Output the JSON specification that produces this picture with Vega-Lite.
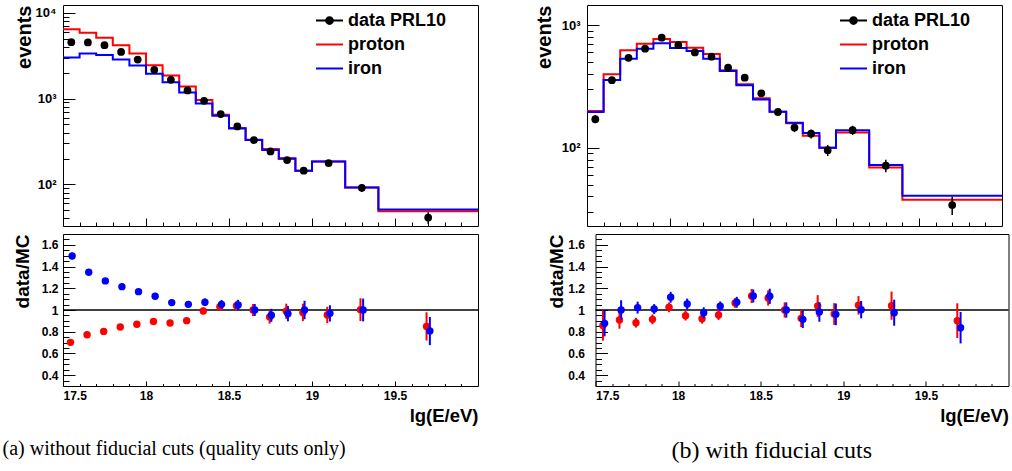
{
"$schema": "https://vega.github.io/schema/vega-lite/v6.json",
"background": "white",
"padding": {"left": 2, "top": 4, "right": 2, "bottom": 4},
"config": {
  "view": {"stroke": "black", "strokeWidth": 1},
  "axis": {"domain": false, "grid": false, "labelFont": "Liberation Sans", "labelFontWeight": "bold", "labelFontSize": 12, "labelColor": "black", "tickColor": "black", "tickWidth": 1, "titleFont": "Liberation Sans", "titleFontWeight": "bold", "titleColor": "black"},
  "title": {"font": "Liberation Serif", "fontWeight": "normal", "color": "black"}
},
"datasets": {
  "histA": [
    {"s":"proton","e":17.5,"n":6410},{"s":"proton","e":17.6,"n":5850},{"s":"proton","e":17.7,"n":5120},{"s":"proton","e":17.8,"n":4180},{"s":"proton","e":17.9,"n":3340},{"s":"proton","e":18.0,"n":2445},{"s":"proton","e":18.1,"n":1850},{"s":"proton","e":18.2,"n":1380},{"s":"proton","e":18.3,"n":958},{"s":"proton","e":18.4,"n":646},{"s":"proton","e":18.5,"n":453},{"s":"proton","e":18.6,"n":331},{"s":"proton","e":18.7,"n":258},{"s":"proton","e":18.8,"n":197},{"s":"proton","e":18.9,"n":144},{"s":"proton","e":19.0,"n":185},{"s":"proton","e":19.2,"n":91.6},{"s":"proton","e":19.4,"n":48.5},{"s":"proton","e":20.0,"n":48.5},
    {"s":"iron","e":17.5,"n":3000},{"s":"iron","e":17.6,"n":3340},{"s":"iron","e":17.7,"n":3220},{"s":"iron","e":17.8,"n":2840},{"s":"iron","e":17.9,"n":2420},{"s":"iron","e":18.0,"n":1940},{"s":"iron","e":18.1,"n":1550},{"s":"iron","e":18.2,"n":1175},{"s":"iron","e":18.3,"n":875},{"s":"iron","e":18.4,"n":630},{"s":"iron","e":18.5,"n":448},{"s":"iron","e":18.6,"n":328},{"s":"iron","e":18.7,"n":251},{"s":"iron","e":18.8,"n":201},{"s":"iron","e":18.9,"n":144},{"s":"iron","e":19.0,"n":185},{"s":"iron","e":19.2,"n":91.6},{"s":"iron","e":19.4,"n":50.8},{"s":"iron","e":20.0,"n":50.8}
  ],
  "dataA": [
    {"s":"data PRL10","x":17.55,"n":4530,"lo":4463,"hi":4597},
    {"s":"data PRL10","x":17.65,"n":4500,"lo":4433,"hi":4567},
    {"s":"data PRL10","x":17.75,"n":4180,"lo":4115,"hi":4245},
    {"s":"data PRL10","x":17.85,"n":3490,"lo":3431,"hi":3549},
    {"s":"data PRL10","x":17.95,"n":2840,"lo":2787,"hi":2893},
    {"s":"data PRL10","x":18.05,"n":2160,"lo":2114,"hi":2206},
    {"s":"data PRL10","x":18.15,"n":1650,"lo":1609,"hi":1691},
    {"s":"data PRL10","x":18.25,"n":1240,"lo":1205,"hi":1275},
    {"s":"data PRL10","x":18.35,"n":940,"lo":909,"hi":971},
    {"s":"data PRL10","x":18.45,"n":659,"lo":633,"hi":685},
    {"s":"data PRL10","x":18.55,"n":472,"lo":450,"hi":494},
    {"s":"data PRL10","x":18.65,"n":328,"lo":310,"hi":346},
    {"s":"data PRL10","x":18.75,"n":242,"lo":226,"hi":258},
    {"s":"data PRL10","x":18.85,"n":192,"lo":178,"hi":206},
    {"s":"data PRL10","x":18.95,"n":144,"lo":132,"hi":156},
    {"s":"data PRL10","x":19.1,"n":177,"lo":164,"hi":190},
    {"s":"data PRL10","x":19.3,"n":91,"lo":81.5,"hi":100.5},
    {"s":"data PRL10","x":19.7,"n":41,"lo":34.6,"hi":47.4}
  ],
  "histB": [
    {"s":"proton","e":17.5,"n":199.5},{"s":"proton","e":17.6,"n":398},{"s":"proton","e":17.7,"n":625},{"s":"proton","e":17.8,"n":708},{"s":"proton","e":17.9,"n":773},{"s":"proton","e":18.0,"n":731},{"s":"proton","e":18.1,"n":656},{"s":"proton","e":18.2,"n":583},{"s":"proton","e":18.3,"n":429},{"s":"proton","e":18.4,"n":330},{"s":"proton","e":18.5,"n":253},{"s":"proton","e":18.6,"n":197},{"s":"proton","e":18.7,"n":158},{"s":"proton","e":18.8,"n":125},{"s":"proton","e":18.9,"n":100},{"s":"proton","e":19.0,"n":133},{"s":"proton","e":19.2,"n":68.7},{"s":"proton","e":19.4,"n":37.6},{"s":"proton","e":20.0,"n":37.6},
    {"s":"iron","e":17.5,"n":196},{"s":"iron","e":17.6,"n":357},{"s":"iron","e":17.7,"n":534},{"s":"iron","e":17.8,"n":644},{"s":"iron","e":17.9,"n":713},{"s":"iron","e":18.0,"n":653},{"s":"iron","e":18.1,"n":617},{"s":"iron","e":18.2,"n":534},{"s":"iron","e":18.3,"n":424},{"s":"iron","e":18.4,"n":324},{"s":"iron","e":18.5,"n":248},{"s":"iron","e":18.6,"n":197},{"s":"iron","e":18.7,"n":160},{"s":"iron","e":18.8,"n":132},{"s":"iron","e":18.9,"n":100},{"s":"iron","e":19.0,"n":139},{"s":"iron","e":19.2,"n":72.3},{"s":"iron","e":19.4,"n":40.5},{"s":"iron","e":20.0,"n":40.5}
  ],
  "dataB": [
    {"s":"data PRL10","x":17.55,"n":171,"lo":158,"hi":184},
    {"s":"data PRL10","x":17.65,"n":356,"lo":337,"hi":375},
    {"s":"data PRL10","x":17.75,"n":543,"lo":520,"hi":566},
    {"s":"data PRL10","x":17.85,"n":644,"lo":619,"hi":669},
    {"s":"data PRL10","x":17.95,"n":793,"lo":765,"hi":821},
    {"s":"data PRL10","x":18.05,"n":690,"lo":664,"hi":716},
    {"s":"data PRL10","x":18.15,"n":601,"lo":576,"hi":626},
    {"s":"data PRL10","x":18.25,"n":554,"lo":530,"hi":578},
    {"s":"data PRL10","x":18.35,"n":451,"lo":430,"hi":472},
    {"s":"data PRL10","x":18.45,"n":373,"lo":354,"hi":392},
    {"s":"data PRL10","x":18.55,"n":278,"lo":261,"hi":295},
    {"s":"data PRL10","x":18.65,"n":196,"lo":182,"hi":210},
    {"s":"data PRL10","x":18.75,"n":146,"lo":134,"hi":158},
    {"s":"data PRL10","x":18.85,"n":130,"lo":119,"hi":141},
    {"s":"data PRL10","x":18.95,"n":95.3,"lo":85.5,"hi":105.1},
    {"s":"data PRL10","x":19.1,"n":139,"lo":127,"hi":151},
    {"s":"data PRL10","x":19.3,"n":71.3,"lo":62.9,"hi":79.7},
    {"s":"data PRL10","x":19.7,"n":34,"lo":28.2,"hi":39.8}
  ],
  "ratioA": [
    {"s":"proton","x":17.545,"r":0.702,"lo":0.687,"hi":0.717},
    {"s":"proton","x":17.645,"r":0.772,"lo":0.757,"hi":0.787},
    {"s":"proton","x":17.745,"r":0.803,"lo":0.788,"hi":0.818},
    {"s":"proton","x":17.845,"r":0.843,"lo":0.827,"hi":0.859},
    {"s":"proton","x":17.945,"r":0.868,"lo":0.850,"hi":0.886},
    {"s":"proton","x":18.045,"r":0.895,"lo":0.875,"hi":0.915},
    {"s":"proton","x":18.145,"r":0.880,"lo":0.858,"hi":0.902},
    {"s":"proton","x":18.245,"r":0.902,"lo":0.877,"hi":0.927},
    {"s":"proton","x":18.345,"r":0.991,"lo":0.961,"hi":1.021},
    {"s":"proton","x":18.445,"r":1.031,"lo":0.991,"hi":1.071},
    {"s":"proton","x":18.545,"r":1.040,"lo":0.995,"hi":1.085},
    {"s":"proton","x":18.645,"r":1.000,"lo":0.945,"hi":1.055},
    {"s":"proton","x":18.745,"r":0.935,"lo":0.875,"hi":0.995},
    {"s":"proton","x":18.845,"r":0.988,"lo":0.918,"hi":1.058},
    {"s":"proton","x":18.945,"r":0.978,"lo":0.898,"hi":1.058},
    {"s":"proton","x":19.092,"r":0.954,"lo":0.879,"hi":1.029},
    {"s":"proton","x":19.292,"r":1.003,"lo":0.898,"hi":1.108},
    {"s":"proton","x":19.69,"r":0.849,"lo":0.719,"hi":0.979},
    {"s":"iron","x":17.555,"r":1.498,"lo":1.468,"hi":1.528},
    {"s":"iron","x":17.655,"r":1.348,"lo":1.323,"hi":1.373},
    {"s":"iron","x":17.755,"r":1.268,"lo":1.246,"hi":1.290},
    {"s":"iron","x":17.855,"r":1.215,"lo":1.193,"hi":1.237},
    {"s":"iron","x":17.955,"r":1.169,"lo":1.145,"hi":1.193},
    {"s":"iron","x":18.055,"r":1.126,"lo":1.100,"hi":1.152},
    {"s":"iron","x":18.155,"r":1.068,"lo":1.041,"hi":1.095},
    {"s":"iron","x":18.255,"r":1.052,"lo":1.022,"hi":1.082},
    {"s":"iron","x":18.355,"r":1.071,"lo":1.036,"hi":1.106},
    {"s":"iron","x":18.455,"r":1.052,"lo":1.012,"hi":1.092},
    {"s":"iron","x":18.555,"r":1.046,"lo":0.998,"hi":1.094},
    {"s":"iron","x":18.655,"r":1.000,"lo":0.945,"hi":1.055},
    {"s":"iron","x":18.755,"r":0.951,"lo":0.891,"hi":1.011},
    {"s":"iron","x":18.855,"r":0.966,"lo":0.896,"hi":1.036},
    {"s":"iron","x":18.955,"r":1.000,"lo":0.915,"hi":1.085},
    {"s":"iron","x":19.108,"r":0.969,"lo":0.894,"hi":1.044},
    {"s":"iron","x":19.308,"r":1.000,"lo":0.895,"hi":1.105},
    {"s":"iron","x":19.71,"r":0.806,"lo":0.676,"hi":0.936}
  ],
  "ratioB": [
    {"s":"proton","x":17.545,"r":0.858,"lo":0.718,"hi":0.998},
    {"s":"proton","x":17.645,"r":0.908,"lo":0.828,"hi":0.988},
    {"s":"proton","x":17.745,"r":0.883,"lo":0.838,"hi":0.928},
    {"s":"proton","x":17.845,"r":0.914,"lo":0.869,"hi":0.959},
    {"s":"proton","x":17.945,"r":1.025,"lo":0.980,"hi":1.070},
    {"s":"proton","x":18.045,"r":0.948,"lo":0.903,"hi":0.993},
    {"s":"proton","x":18.145,"r":0.920,"lo":0.875,"hi":0.965},
    {"s":"proton","x":18.245,"r":0.954,"lo":0.909,"hi":0.999},
    {"s":"proton","x":18.345,"r":1.065,"lo":1.020,"hi":1.110},
    {"s":"proton","x":18.445,"r":1.129,"lo":1.064,"hi":1.194},
    {"s":"proton","x":18.545,"r":1.111,"lo":1.041,"hi":1.181},
    {"s":"proton","x":18.645,"r":1.000,"lo":0.930,"hi":1.070},
    {"s":"proton","x":18.745,"r":0.923,"lo":0.843,"hi":1.003},
    {"s":"proton","x":18.845,"r":1.037,"lo":0.937,"hi":1.137},
    {"s":"proton","x":18.945,"r":0.963,"lo":0.863,"hi":1.063},
    {"s":"proton","x":19.092,"r":1.043,"lo":0.958,"hi":1.128},
    {"s":"proton","x":19.292,"r":1.040,"lo":0.910,"hi":1.170},
    {"s":"proton","x":19.69,"r":0.902,"lo":0.742,"hi":1.062},
    {"s":"iron","x":17.555,"r":0.877,"lo":0.757,"hi":0.997},
    {"s":"iron","x":17.655,"r":1.000,"lo":0.910,"hi":1.090},
    {"s":"iron","x":17.755,"r":1.022,"lo":0.967,"hi":1.077},
    {"s":"iron","x":17.855,"r":1.009,"lo":0.964,"hi":1.054},
    {"s":"iron","x":17.955,"r":1.117,"lo":1.067,"hi":1.167},
    {"s":"iron","x":18.055,"r":1.055,"lo":1.005,"hi":1.105},
    {"s":"iron","x":18.155,"r":0.975,"lo":0.925,"hi":1.025},
    {"s":"iron","x":18.255,"r":1.034,"lo":0.989,"hi":1.079},
    {"s":"iron","x":18.355,"r":1.071,"lo":1.021,"hi":1.121},
    {"s":"iron","x":18.455,"r":1.129,"lo":1.069,"hi":1.189},
    {"s":"iron","x":18.555,"r":1.126,"lo":1.056,"hi":1.196},
    {"s":"iron","x":18.655,"r":1.000,"lo":0.930,"hi":1.070},
    {"s":"iron","x":18.755,"r":0.914,"lo":0.834,"hi":0.994},
    {"s":"iron","x":18.855,"r":0.982,"lo":0.892,"hi":1.072},
    {"s":"iron","x":18.955,"r":0.960,"lo":0.860,"hi":1.060},
    {"s":"iron","x":19.108,"r":1.003,"lo":0.923,"hi":1.083},
    {"s":"iron","x":19.308,"r":0.975,"lo":0.855,"hi":1.095},
    {"s":"iron","x":19.71,"r":0.837,"lo":0.692,"hi":0.982}
  ],
  "one": [{"ref": 1}]
},
"vconcat": [
  {
    "hconcat": [
      {
        "width": 415, "height": 221,
        "layer": [
          {"data": {"name": "histA"}, "transform": [{"filter": "datum.s == 'proton'"}],
           "mark": {"type": "line", "interpolate": "step-after", "strokeWidth": 2},
           "encoding": {
             "x": {"field": "e", "type": "quantitative", "scale": {"domain": [17.5, 20], "nice": false, "zero": false},
                   "axis": {"orient": "bottom", "values": [17.5, 18, 18.5, 19, 19.5], "labels": false, "tickSize": -8, "title": null}},
             "y": {"field": "n", "type": "quantitative", "scale": {"type": "log", "domain": [32.7, 12290], "nice": false},
                   "axis": {"orient": "left", "values": [100, 1000, 10000], "ticks": false, "labelExpr": "datum.value >= 9000 ? '10⁴' : datum.value >= 900 ? '10³' : '10²'", "labelFontSize": 13, "labelPadding": 7, "title": "events", "titleFontSize": 20, "titleAnchor": "end", "titleBaseline": "alphabetic", "titlePadding": 4.5}},
             "color": {"field": "s", "type": "nominal", "scale": {"domain": ["data PRL10", "proton", "iron"], "range": ["black", "#ff0000", "#0000ff"]},
                       "legend": {"orient": "none", "legendX": 252, "legendY": 1, "title": null, "labelFont": "Liberation Sans", "labelFontSize": 18, "labelFontWeight": "bold", "labelColor": "black", "labelLimit": 300, "symbolSize": 300, "labelOffset": 4, "rowPadding": 0, "padding": 0, "symbolType": "stroke", "symbolStrokeWidth": 2,
                                  "encode": {"symbols": {"update": {"shape": {"signal": "datum.value == 'data PRL10' ? 'M-1,0H1M0.25,0A0.25,0.25,0,1,1,-0.25,0A0.25,0.25,0,1,1,0.25,0Z' : 'M-1,0H1'"}, "size": {"value": 729}, "stroke": {"signal": "datum.value == 'proton' ? '#ff0000' : datum.value == 'iron' ? '#0000ff' : 'black'"}, "fill": {"signal": "datum.value == 'data PRL10' ? 'black' : 'transparent'"}, "strokeWidth": {"value": 2}, "opacity": {"value": 1}}}}}}
           }},
          {"data": {"name": "histA"}, "transform": [{"filter": "datum.s == 'iron'"}],
           "mark": {"type": "line", "interpolate": "step-after", "strokeWidth": 2},
           "encoding": {
             "x": {"field": "e", "type": "quantitative",
                   "axis": {"orient": "bottom", "values": [17.6,17.7,17.8,17.9,18.1,18.2,18.3,18.4,18.6,18.7,18.8,18.9,19.1,19.2,19.3,19.4,19.6,19.7,19.8,19.9], "labels": false, "tickSize": -4, "title": null}},
             "y": {"field": "n", "type": "quantitative",
                   "axis": {"orient": "left", "values": [100, 1000, 10000], "labels": false, "tickSize": -12, "title": null}},
             "color": {"field": "s", "type": "nominal", "scale": {"domain": ["data PRL10", "proton", "iron"], "range": ["black", "#ff0000", "#0000ff"]}}
           }},
          {"data": {"name": "dataA"},
           "mark": {"type": "rule", "color": "black", "strokeWidth": 1.5},
           "encoding": {
             "x": {"field": "x", "type": "quantitative", "axis": null},
             "y": {"field": "lo", "type": "quantitative",
                   "axis": {"orient": "left", "values": [40,50,60,70,80,90,200,300,400,500,600,700,800,900,2000,3000,4000,5000,6000,7000,8000,9000], "labels": false, "tickSize": -6, "title": null}},
             "y2": {"field": "hi"}
           }},
          {"data": {"name": "dataA"},
           "mark": {"type": "point", "filled": true, "size": 60, "opacity": 1},
           "encoding": {
             "x": {"field": "x", "type": "quantitative", "axis": null},
             "y": {"field": "n", "type": "quantitative", "axis": null},
             "color": {"field": "s", "type": "nominal", "scale": {"domain": ["data PRL10", "proton", "iron"], "range": ["black", "#ff0000", "#0000ff"]}}
           }}
        ],
        "resolve": {"axis": {"x": "independent", "y": "independent"}}
      },
      {
        "width": 415, "height": 221,
        "layer": [
          {"data": {"name": "histB"}, "transform": [{"filter": "datum.s == 'proton'"}],
           "mark": {"type": "line", "interpolate": "step-after", "strokeWidth": 2},
           "encoding": {
             "x": {"field": "e", "type": "quantitative", "scale": {"domain": [17.5, 20], "nice": false, "zero": false},
                   "axis": {"orient": "bottom", "values": [17.5, 18, 18.5, 19, 19.5], "labels": false, "tickSize": -8, "title": null}},
             "y": {"field": "n", "type": "quantitative", "scale": {"type": "log", "domain": [22.9, 1466], "nice": false},
                   "axis": {"orient": "left", "values": [100, 1000], "ticks": false, "labelExpr": "datum.value >= 900 ? '10³' : '10²'", "labelFontSize": 13, "labelPadding": 7, "title": "events", "titleFontSize": 20, "titleAnchor": "end", "titleBaseline": "alphabetic", "titlePadding": 11}},
             "color": {"field": "s", "type": "nominal", "scale": {"domain": ["data PRL10", "proton", "iron"], "range": ["black", "#ff0000", "#0000ff"]},
                       "legend": {"orient": "none", "legendX": 252, "legendY": 1, "title": null, "labelFont": "Liberation Sans", "labelFontSize": 18, "labelFontWeight": "bold", "labelColor": "black", "labelLimit": 300, "symbolSize": 300, "labelOffset": 4, "rowPadding": 0, "padding": 0, "symbolType": "stroke", "symbolStrokeWidth": 2,
                                  "encode": {"symbols": {"update": {"shape": {"signal": "datum.value == 'data PRL10' ? 'M-1,0H1M0.25,0A0.25,0.25,0,1,1,-0.25,0A0.25,0.25,0,1,1,0.25,0Z' : 'M-1,0H1'"}, "size": {"value": 729}, "stroke": {"signal": "datum.value == 'proton' ? '#ff0000' : datum.value == 'iron' ? '#0000ff' : 'black'"}, "fill": {"signal": "datum.value == 'data PRL10' ? 'black' : 'transparent'"}, "strokeWidth": {"value": 2}, "opacity": {"value": 1}}}}}}
           }},
          {"data": {"name": "histB"}, "transform": [{"filter": "datum.s == 'iron'"}],
           "mark": {"type": "line", "interpolate": "step-after", "strokeWidth": 2},
           "encoding": {
             "x": {"field": "e", "type": "quantitative",
                   "axis": {"orient": "bottom", "values": [17.6,17.7,17.8,17.9,18.1,18.2,18.3,18.4,18.6,18.7,18.8,18.9,19.1,19.2,19.3,19.4,19.6,19.7,19.8,19.9], "labels": false, "tickSize": -4, "title": null}},
             "y": {"field": "n", "type": "quantitative",
                   "axis": {"orient": "left", "values": [100, 1000], "labels": false, "tickSize": -12, "title": null}},
             "color": {"field": "s", "type": "nominal", "scale": {"domain": ["data PRL10", "proton", "iron"], "range": ["black", "#ff0000", "#0000ff"]}}
           }},
          {"data": {"name": "dataB"},
           "mark": {"type": "rule", "color": "black", "strokeWidth": 1.5},
           "encoding": {
             "x": {"field": "x", "type": "quantitative", "axis": null},
             "y": {"field": "lo", "type": "quantitative",
                   "axis": {"orient": "left", "values": [30,40,50,60,70,80,90,200,300,400,500,600,700,800,900], "labels": false, "tickSize": -6, "title": null}},
             "y2": {"field": "hi"}
           }},
          {"data": {"name": "dataB"},
           "mark": {"type": "point", "filled": true, "size": 60, "opacity": 1},
           "encoding": {
             "x": {"field": "x", "type": "quantitative", "axis": null},
             "y": {"field": "n", "type": "quantitative", "axis": null},
             "color": {"field": "s", "type": "nominal", "scale": {"domain": ["data PRL10", "proton", "iron"], "range": ["black", "#ff0000", "#0000ff"]}}
           }}
        ],
        "resolve": {"axis": {"x": "independent", "y": "independent"}}
      }
    ],
    "spacing": 109,
    "bounds": "flush",
    "resolve": {"scale": {"color": "independent"}, "legend": {"color": "independent"}}
  },
  {
    "hconcat": [
      {
        "width": 415, "height": 152,
        "title": {"text": "(a) without fiducial cuts (quality cuts only)", "orient": "bottom", "anchor": "start", "frame": "group", "dx": -60.5, "offset": 14, "font": "Liberation Serif", "fontSize": 20, "fontWeight": "normal", "color": "black", "baseline": "top"},
        "layer": [
          {"data": {"name": "one"},
           "mark": {"type": "rule", "color": "black", "strokeWidth": 1.5},
           "encoding": {
             "y": {"field": "ref", "type": "quantitative", "scale": {"domain": [0.3, 1.7], "nice": false, "zero": false},
                   "axis": {"orient": "left", "values": [0.4, 0.6, 0.8, 1, 1.2, 1.4, 1.6], "format": "~g", "ticks": false, "labelPadding": 5, "labelFontSize": 12, "title": "data/MC", "titleFontSize": 19, "titleAnchor": "end", "titleBaseline": "alphabetic", "titlePadding": 12.5}}
           }},
          {"data": {"name": "ratioA"}, "transform": [{"filter": "datum.s == 'proton'"}],
           "mark": {"type": "rule", "color": "#ff0000", "strokeWidth": 2},
           "encoding": {
             "x": {"field": "x", "type": "quantitative", "scale": {"domain": [17.5, 20], "nice": false, "zero": false},
                   "axis": {"orient": "bottom", "values": [17.5, 18, 18.5, 19, 19.5], "format": "~g", "ticks": false, "labelPadding": 4, "labelFontSize": 12, "title": "lg(E/eV)", "titleFontSize": 18.5, "titleAnchor": "end", "titlePadding": 5}},
             "y": {"field": "lo", "type": "quantitative",
                   "axis": {"orient": "left", "values": [0.4, 0.6, 0.8, 1, 1.2, 1.4, 1.6], "labels": false, "tickSize": -12, "title": null}},
             "y2": {"field": "hi"}
           }},
          {"data": {"name": "ratioA"}, "transform": [{"filter": "datum.s == 'proton'"}],
           "mark": {"type": "point", "filled": true, "size": 55, "opacity": 1, "color": "#ff0000"},
           "encoding": {
             "x": {"field": "x", "type": "quantitative",
                   "axis": {"orient": "bottom", "values": [17.5, 18, 18.5, 19, 19.5], "labels": false, "tickSize": -5, "title": null}},
             "y": {"field": "r", "type": "quantitative",
                   "axis": {"orient": "left", "values": [0.35,0.45,0.5,0.55,0.65,0.7,0.75,0.85,0.9,0.95,1.05,1.1,1.15,1.25,1.3,1.35,1.45,1.5,1.55,1.65], "labels": false, "tickSize": -6, "title": null}}
           }},
          {"data": {"name": "ratioA"}, "transform": [{"filter": "datum.s == 'iron'"}],
           "mark": {"type": "rule", "color": "#0000ff", "strokeWidth": 2},
           "encoding": {
             "x": {"field": "x", "type": "quantitative",
                   "axis": {"orient": "bottom", "values": [17.6,17.7,17.8,17.9,18.1,18.2,18.3,18.4,18.6,18.7,18.8,18.9,19.1,19.2,19.3,19.4,19.6,19.7,19.8,19.9], "labels": false, "tickSize": -2.5, "title": null}},
             "y": {"field": "lo", "type": "quantitative", "axis": null},
             "y2": {"field": "hi"}
           }},
          {"data": {"name": "ratioA"}, "transform": [{"filter": "datum.s == 'iron'"}],
           "mark": {"type": "point", "filled": true, "size": 55, "opacity": 1, "color": "#0000ff"},
           "encoding": {
             "x": {"field": "x", "type": "quantitative", "axis": null},
             "y": {"field": "r", "type": "quantitative", "axis": null}
           }}
        ],
        "resolve": {"axis": {"x": "independent", "y": "independent"}}
      },
      {
        "width": 413, "height": 152,
        "title": {"text": "(b) with fiducial cuts", "orient": "bottom", "anchor": "start", "frame": "group", "dx": 76, "offset": 14, "font": "Liberation Serif", "fontSize": 24, "fontWeight": "normal", "color": "black", "baseline": "top"},
        "layer": [
          {"data": {"name": "one"},
           "mark": {"type": "rule", "color": "black", "strokeWidth": 1.5},
           "encoding": {
             "y": {"field": "ref", "type": "quantitative", "scale": {"domain": [0.3, 1.7], "nice": false, "zero": false},
                   "axis": {"orient": "left", "values": [0.4, 0.6, 0.8, 1, 1.2, 1.4, 1.6], "format": "~g", "ticks": false, "labelPadding": 11, "labelFontSize": 12, "title": "data/MC", "titleFontSize": 19, "titleAnchor": "end", "titleBaseline": "alphabetic", "titlePadding": 5}}
           }},
          {"data": {"name": "ratioB"}, "transform": [{"filter": "datum.s == 'proton'"}],
           "mark": {"type": "rule", "color": "#ff0000", "strokeWidth": 2},
           "encoding": {
             "x": {"field": "x", "type": "quantitative", "scale": {"domain": [17.5, 20], "nice": false, "zero": false},
                   "axis": {"orient": "bottom", "values": [17.5, 18, 18.5, 19, 19.5], "format": "~g", "ticks": false, "labelPadding": 4, "labelFontSize": 12, "title": "lg(E/eV)", "titleFontSize": 18.5, "titleAnchor": "end", "titlePadding": 5}},
             "y": {"field": "lo", "type": "quantitative",
                   "axis": {"orient": "left", "values": [0.4, 0.6, 0.8, 1, 1.2, 1.4, 1.6], "labels": false, "tickSize": -12, "title": null}},
             "y2": {"field": "hi"}
           }},
          {"data": {"name": "ratioB"}, "transform": [{"filter": "datum.s == 'proton'"}],
           "mark": {"type": "point", "filled": true, "size": 55, "opacity": 1, "color": "#ff0000"},
           "encoding": {
             "x": {"field": "x", "type": "quantitative",
                   "axis": {"orient": "bottom", "values": [17.5, 18, 18.5, 19, 19.5], "labels": false, "tickSize": -5, "title": null}},
             "y": {"field": "r", "type": "quantitative",
                   "axis": {"orient": "left", "values": [0.35,0.45,0.5,0.55,0.65,0.7,0.75,0.85,0.9,0.95,1.05,1.1,1.15,1.25,1.3,1.35,1.45,1.5,1.55,1.65], "labels": false, "tickSize": -6, "title": null}}
           }},
          {"data": {"name": "ratioB"}, "transform": [{"filter": "datum.s == 'iron'"}],
           "mark": {"type": "rule", "color": "#0000ff", "strokeWidth": 2},
           "encoding": {
             "x": {"field": "x", "type": "quantitative",
                   "axis": {"orient": "bottom", "values": [17.6,17.7,17.8,17.9,18.1,18.2,18.3,18.4,18.6,18.7,18.8,18.9,19.1,19.2,19.3,19.4,19.6,19.7,19.8,19.9], "labels": false, "tickSize": -2.5, "title": null}},
             "y": {"field": "lo", "type": "quantitative", "axis": null},
             "y2": {"field": "hi"}
           }},
          {"data": {"name": "ratioB"}, "transform": [{"filter": "datum.s == 'iron'"}],
           "mark": {"type": "point", "filled": true, "size": 55, "opacity": 1, "color": "#0000ff"},
           "encoding": {
             "x": {"field": "x", "type": "quantitative", "axis": null},
             "y": {"field": "r", "type": "quantitative", "axis": null}
           }}
        ],
        "resolve": {"axis": {"x": "independent", "y": "independent"}}
      }
    ],
    "spacing": 117.5,
    "bounds": "flush"
  }
],
"spacing": 6,
"resolve": {"scale": {"color": "independent"}, "legend": {"color": "independent"}}
}
